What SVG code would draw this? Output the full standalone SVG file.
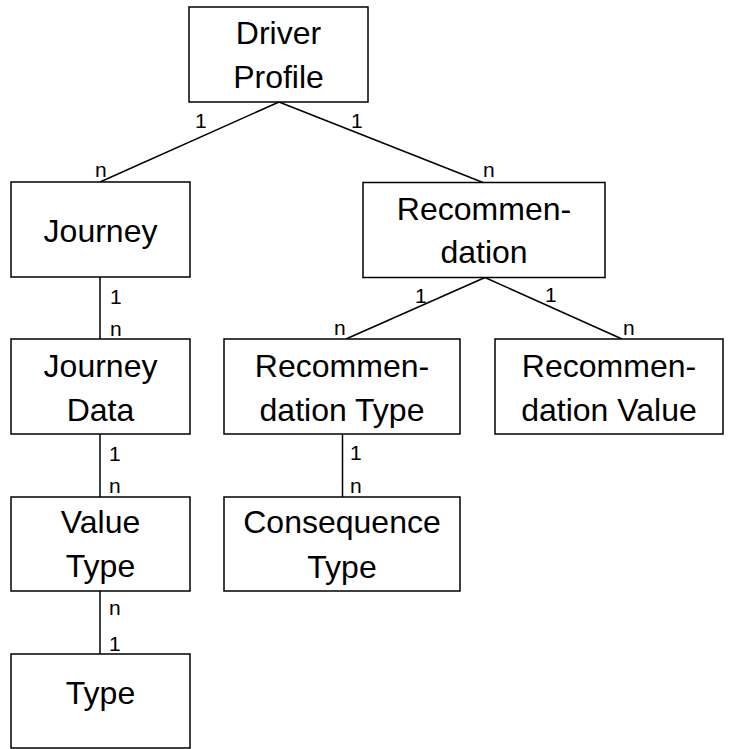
<svg xmlns="http://www.w3.org/2000/svg" width="735" height="749" viewBox="0 0 735 749">
<style>
.box{fill:#fff;stroke:#000;stroke-width:1.5}
.t{font-family:"Liberation Sans",Arial,sans-serif;font-size:32px;fill:#000;text-anchor:middle}
.c{stroke:#000;stroke-width:1.5;fill:none}
.l{font-family:"Liberation Sans",Arial,sans-serif;font-size:21px;fill:#000}
</style>
<rect width="735" height="749" fill="#fff"/>
<g id="connectors">
<line class="c" x1="279" y1="102" x2="100" y2="182"/>
<line class="c" x1="279" y1="102" x2="483" y2="182.5"/>
<line class="c" x1="485" y1="277.5" x2="346" y2="339"/>
<line class="c" x1="485" y1="277.5" x2="622" y2="339"/>
<line class="c" x1="100" y1="277" x2="100" y2="339"/>
<line class="c" x1="100" y1="434" x2="100" y2="497"/>
<line class="c" x1="100" y1="591" x2="100" y2="654"/>
<line class="c" x1="342.5" y1="434" x2="342.5" y2="497"/>
<text class="l" x="195" y="128">1</text>
<text class="l" x="351" y="128">1</text>
<text class="l" x="95" y="177">n</text>
<text class="l" x="483" y="177">n</text>
<text class="l" x="110" y="304">1</text>
<text class="l" x="110" y="336">n</text>
<text class="l" x="415" y="303">1</text>
<text class="l" x="334" y="335">n</text>
<text class="l" x="545" y="302">1</text>
<text class="l" x="623" y="335">n</text>
<text class="l" x="109" y="461">1</text>
<text class="l" x="109" y="493">n</text>
<text class="l" x="109" y="615">n</text>
<text class="l" x="109" y="651">1</text>
<text class="l" x="350" y="460">1</text>
<text class="l" x="350" y="493">n</text>
</g>
<g id="driver-profile">
<rect class="box" x="189" y="7" width="179" height="95"/>
<text class="t" x="278.5" y="44">Driver</text>
<text class="t" x="278.5" y="88">Profile</text>
</g>
<g id="journey">
<rect class="box" x="11" y="182" width="179" height="95"/>
<text class="t" x="100.5" y="242">Journey</text>
</g>
<g id="recommendation">
<rect class="box" x="363" y="182.5" width="242" height="95"/>
<text class="t" x="484" y="220">Recommen-</text>
<text class="t" x="484" y="263">dation</text>
</g>
<g id="journey-data">
<rect class="box" x="11" y="339" width="179" height="95"/>
<text class="t" x="100.5" y="377">Journey</text>
<text class="t" x="100.5" y="421">Data</text>
</g>
<g id="recommendation-type">
<rect class="box" x="224" y="339" width="236" height="95"/>
<text class="t" x="342" y="377">Recommen-</text>
<text class="t" x="342" y="421">dation Type</text>
</g>
<g id="recommendation-value">
<rect class="box" x="495" y="339" width="228" height="95"/>
<text class="t" x="609" y="377">Recommen-</text>
<text class="t" x="609" y="421">dation Value</text>
</g>
<g id="value-type">
<rect class="box" x="11" y="497" width="179" height="94"/>
<text class="t" x="100.5" y="533">Value</text>
<text class="t" x="100.5" y="577">Type</text>
</g>
<g id="consequence-type">
<rect class="box" x="224" y="497" width="236" height="94"/>
<text class="t" x="342" y="533">Consequence</text>
<text class="t" x="342" y="578">Type</text>
</g>
<g id="type">
<rect class="box" x="11" y="654" width="179" height="94"/>
<text class="t" x="100.5" y="704">Type</text>
</g>
</svg>
